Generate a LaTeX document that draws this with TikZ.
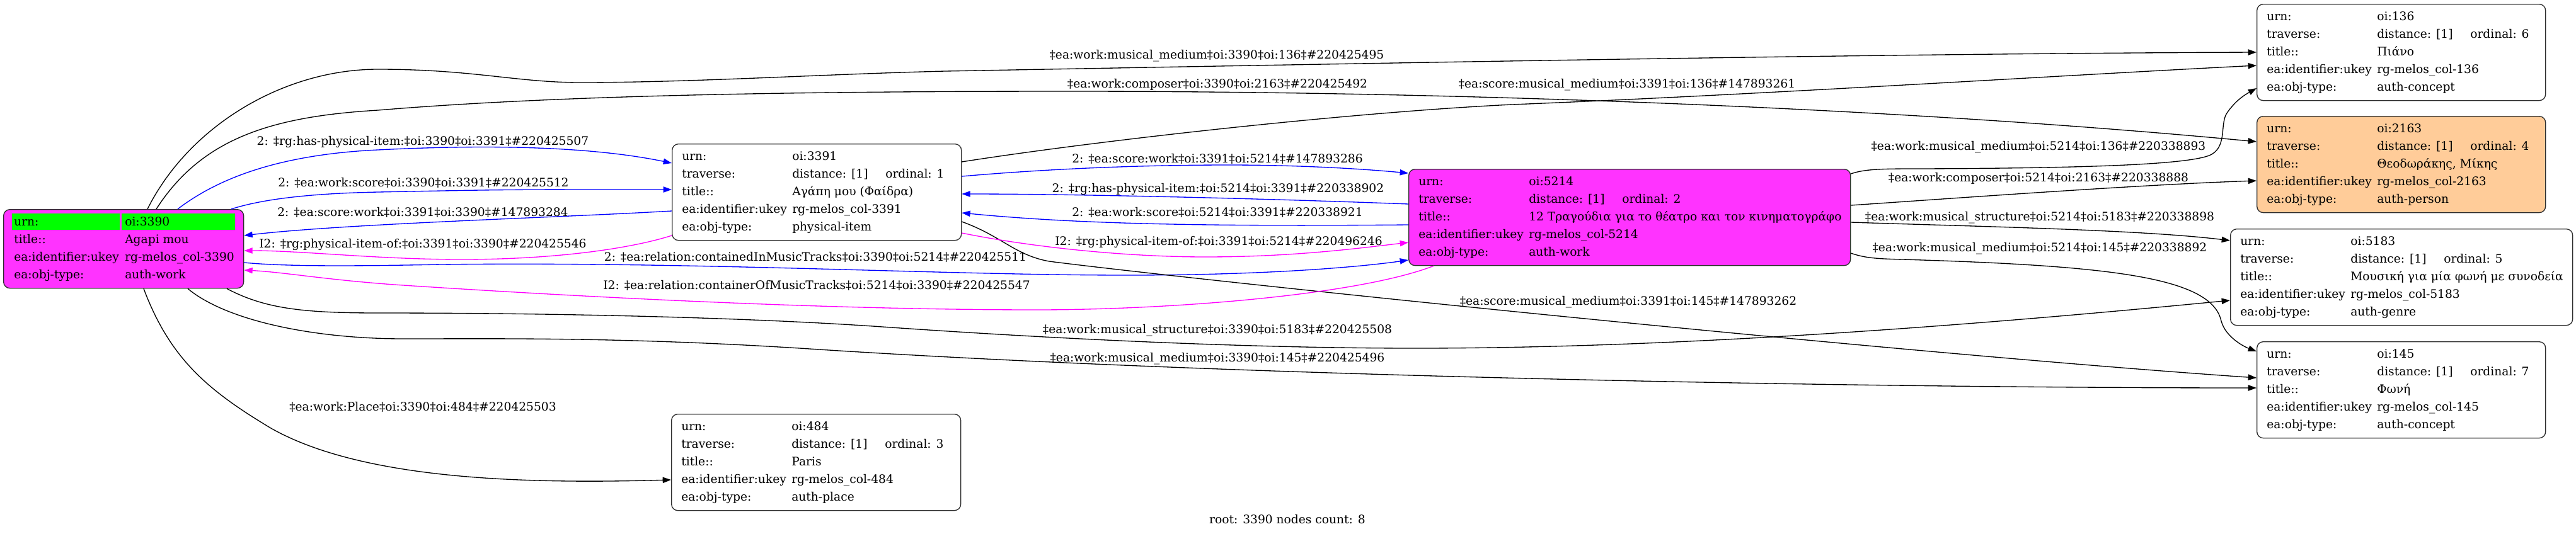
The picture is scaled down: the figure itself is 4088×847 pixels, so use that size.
\documentclass[tikz,border=0pt]{standalone}
\usepackage{fontspec}
\setmainfont{DejaVu Serif}
\usetikzlibrary{arrows.meta}
\definecolor{mag}{RGB}{255,51,255}
\definecolor{grn}{RGB}{0,255,0}
\definecolor{org}{RGB}{255,204,153}
\definecolor{eblue}{RGB}{0,0,255}
\definecolor{emag}{RGB}{255,0,255}
\definecolor{bord}{RGB}{45,45,45}
\tikzset{
 rec/.style={draw=bord, line width=1pt, rounded corners=7.5pt, inner sep=0pt, anchor=north west},
 cell/.style={fill=grn, inner sep=0pt, anchor=north west},
 txt/.style={inner sep=0pt, anchor=base west, font=\fontsize{14pt}{16pt}\selectfont},
 lbl/.style={inner sep=0pt, anchor=base, font=\fontsize{14pt}{16pt}\selectfont},
 conn/.style={line width=1pt, -{Triangle[length=10pt,width=7pt]}},
 eb/.style={conn, draw=eblue},
 em/.style={conn, draw=emag},
 ek/.style={conn, draw=black},
}
\newcommand{\recbox}[8]{%
 \node[rec, fill=#5, minimum width=#4*0.75pt, minimum height=153*0.75pt] (b#1) at (#2,#3) {};
 \node[txt] (b#1-a) at (#2+16,#3+26) {urn:};
 \node[txt] (b#1-av) at (#2+191,#3+26) {oi:#1};
 \node[txt] (b#1-b) at (#2+16,#3+54) {traverse:};
 \node[txt] (b#1-bv) at (#2+191,#3+54) {distance: [1]};
 \node[txt] (b#1-bo) at (#2+339,#3+54) {ordinal: #6};
 \node[txt] (b#1-c) at (#2+16,#3+82) {title::};
 \node[txt] (b#1-cv) at (#2+191,#3+82) {#7};
 \node[txt] (b#1-d) at (#2+16,#3+110) {ea:identifier:ukey};
 \node[txt] (b#1-dv) at (#2+191,#3+110) {rg-melos\_col-#1};
 \node[txt] (b#1-e) at (#2+16,#3+138) {ea:obj-type:};
 \node[txt] (b#1-ev) at (#2+191,#3+138) {#8};
}
\begin{document}
\begin{tikzpicture}[x=0.75pt,y=-0.75pt]
\path[use as bounding box] (0,0) rectangle (4088,847);

% root node
\node[rec, fill=mag, minimum width=381*0.75pt, minimum height=125*0.75pt] (b3390) at (5,332) {};
\node[cell, minimum width=171*0.75pt, minimum height=26*0.75pt] (g1) at (19,339) {};
\node[cell, minimum width=180*0.75pt, minimum height=26*0.75pt] (g2) at (193,339) {};
\node[txt] (r-a) at (22,358) {urn:};
\node[txt] (r-av) at (198,358) {oi:3390};
\node[txt] (r-c) at (22,386) {title::};
\node[txt] (r-cv) at (198,386) {Agapi mou};
\node[txt] (r-d) at (22,414) {ea:identifier:ukey};
\node[txt] (r-dv) at (198,414) {rg-melos\_col-3390};
\node[txt] (r-e) at (22,442) {ea:obj-type:};
\node[txt] (r-ev) at (198,442) {auth-work};

\recbox{3391}{1066}{228}{459}{white}{1}{Αγάπη μου (Φαίδρα)}{physical-item}
\recbox{5214}{2235}{268}{701}{mag}{2}{12 Τραγούδια για το θέατρο και τον κινηματογράφο}{auth-work}
\recbox{136}{3581}{6}{458}{white}{6}{Πιάνο}{auth-concept}
\recbox{2163}{3581}{184}{458}{org}{4}{Θεοδωράκης, Μίκης}{auth-person}
\recbox{5183}{3539}{363}{543}{white}{5}{Μουσική για μία φωνή με συνοδεία}{auth-genre}
\recbox{145}{3581}{542}{458}{white}{7}{Φωνή}{auth-concept}
\recbox{484}{1065}{657}{459}{white}{3}{Paris}{auth-place}

% edges from 3390
\draw[ek] (234,0 |- b3390.north) .. controls (300,200) and (450,110) .. (600,110) .. controls (750,110) and (820,131) .. (921,131) .. controls (1100,131) and (1300,118) .. (1500,113) .. controls (2200,100) and (3000,85) .. (b136.west |- 0,83);
\draw[ek] (248,0 |- b3390.north) .. controls (320,220) and (430,185) .. (600,175) .. controls (900,150) and (1300,145) .. (1700,145) .. controls (2300,145) and (3000,170) .. (b2163.west |- 0,225);
\draw[eb] (282,0 |- b3390.north) .. controls (350,280) and (450,245) .. (600,238) .. controls (800,228) and (950,235) .. (b3391.west |- 0,259);
\draw[eb] (367,0 |- b3390.north) .. controls (420,315) and (500,307) .. (600,305) .. controls (800,301) .. (b3391.west |- 0,301);
\draw[ek] (360,0 |- b3390.south) .. controls (420,490) and (480,497) .. (600,497) .. controls (900,497) and (1200,505) .. (1400,519) .. controls (1700,540) and (2000,553) .. (2247,553) .. controls (2700,553) and (3200,510) .. (b5183.west |- 0,477);
\draw[ek] (298,0 |- b3390.south) .. controls (360,510) and (500,538) .. (640,538) .. controls (800,538) and (1000,535) .. (1300,555) .. controls (2000,600) and (3000,616) .. (b145.west |- 0,616);
\draw[ek] (228,0 |- b3390.south) .. controls (270,570) and (330,620) .. (430,680) .. controls (580,765) and (850,768) .. (b484.west |- 0,762);
\draw[eb] (b3390.east |- 0,417) .. controls (450,423) and (550,423) .. (700,420) .. controls (1100,415) and (1500,437) .. (1788,437) .. controls (2000,437) and (2150,425) .. (b5214.west |- 0,413);

% edges from 3391
\draw[ek] (b3391.east |- 0,257) .. controls (1750,222) and (2150,178) .. (2400,166) .. controls (2800,150) and (3300,118) .. (b136.west |- 0,104);
\draw[eb] (b3391.east |- 0,280) .. controls (1700,265) and (1850,262) .. (1950,262) .. controls (2050,262) and (2150,267) .. (b5214.west |- 0,275);
\draw[ek] (b3391.east |- 0,352) .. controls (1590,375) and (1610,405) .. (1665,415) .. controls (1900,445) and (3000,560) .. (b145.west |- 0,600);
\draw[em] (b3391.west |- 0,374) .. controls (1000,395) and (880,412) .. (733,412) .. controls (600,412) and (480,398) .. (b3390.east |- 0,398);
\draw[em] (b3391.east |- 0,370) .. controls (1650,395) and (1800,408) .. (1912,408) .. controls (2050,408) and (2150,395) .. (b5214.west |- 0,385);
\draw[eb] (b3391.west |- 0,335) .. controls (900,345) and (550,355) .. (b3390.east |- 0,374);

% edges from 5214
\draw[eb] (b5214.west |- 0,324) .. controls (2000,315) and (1700,308) .. (b3391.east |- 0,308);
\draw[eb] (b5214.west |- 0,357) .. controls (1900,360) and (1700,355) .. (b3391.east |- 0,338);
\draw[em] (2275,0 |- b5214.south) .. controls (2150,470) and (1850,492) .. (1645,492) .. controls (1300,492) and (900,470) .. (640,453) .. controls (520,445) and (450,432) .. (b3390.east |- 0,429);
\draw[ek] (b5214.east |- 0,276) .. controls (2960,268) and (2990,268) .. (3050,268) .. controls (3300,267) and (3480,262) .. (3510,245) .. controls (3535,230) and (3522,195) .. (3535,178) .. controls (3548,160) and (3560,152) .. (b136.west |- 0,140);
\draw[ek] (b5214.east |- 0,326) .. controls (3100,315) and (3400,293) .. (b2163.west |- 0,287);
\draw[ek] (b5214.east |- 0,353) .. controls (3150,360) and (3400,365) .. (b5183.west |- 0,382);
\draw[ek] (b5214.east |- 0,402) .. controls (2960,410) and (2980,411) .. (3020,412) .. controls (3350,422) and (3510,440) .. (3525,510) .. controls (3532,535) and (3560,550) .. (b145.west |- 0,558);

% edge labels
\node[lbl] (l1) at (1931,93) {‡ea:work:musical\_medium‡oi:3390‡oi:136‡\#220425495};
\node[lbl] (l2) at (1932,139) {‡ea:work:composer‡oi:3390‡oi:2163‡\#220425492};
\node[lbl] (l3) at (671,230) {2: ‡rg:has-physical-item:‡oi:3390‡oi:3391‡\#220425507};
\node[lbl] (l4) at (672,296) {2: ‡ea:work:score‡oi:3390‡oi:3391‡\#220425512};
\node[lbl] (l21) at (671,343) {2: ‡ea:score:work‡oi:3391‡oi:3390‡\#147893284};
\node[lbl] (l11) at (671,393) {I2: ‡rg:physical-item-of:‡oi:3391‡oi:3390‡\#220425546};
\node[lbl] (l15) at (1294,414) {2: ‡ea:relation:containedInMusicTracks‡oi:3390‡oi:5214‡\#220425511};
\node[lbl] (l16) at (1296,459) {I2: ‡ea:relation:containerOfMusicTracks‡oi:5214‡oi:3390‡\#220425547};
\node[lbl] (l5) at (1932,529) {‡ea:work:musical\_structure‡oi:3390‡oi:5183‡\#220425508};
\node[lbl] (l6) at (1932,574) {‡ea:work:musical\_medium‡oi:3390‡oi:145‡\#220425496};
\node[lbl] (l7) at (671,652) {‡ea:work:Place‡oi:3390‡oi:484‡\#220425503};
\node[lbl] (l8) at (2582,139) {‡ea:score:musical\_medium‡oi:3391‡oi:136‡\#147893261};
\node[lbl] (l9) at (1932,258) {2: ‡ea:score:work‡oi:3391‡oi:5214‡\#147893286};
\node[lbl] (l13) at (1933,305) {2: ‡rg:has-physical-item:‡oi:5214‡oi:3391‡\#220338902};
\node[lbl] (l14) at (1932,343) {2: ‡ea:work:score‡oi:5214‡oi:3391‡\#220338921};
\node[lbl] (l12) at (1934,389) {I2: ‡rg:physical-item-of:‡oi:3391‡oi:5214‡\#220496246};
\node[lbl] (l10) at (2584,484) {‡ea:score:musical\_medium‡oi:3391‡oi:145‡\#147893262};
\node[lbl] (l17) at (3235,238) {‡ea:work:musical\_medium‡oi:5214‡oi:136‡\#220338893};
\node[lbl] (l18) at (3235,288) {‡ea:work:composer‡oi:5214‡oi:2163‡\#220338888};
\node[lbl] (l19) at (3237,350) {‡ea:work:musical\_structure‡oi:5214‡oi:5183‡\#220338898};
\node[lbl] (l20) at (3237,399) {‡ea:work:musical\_medium‡oi:5214‡oi:145‡\#220338892};

\node[lbl] (root) at (2043,831) {root: 3390 nodes count: 8};
\end{tikzpicture}
\end{document}
